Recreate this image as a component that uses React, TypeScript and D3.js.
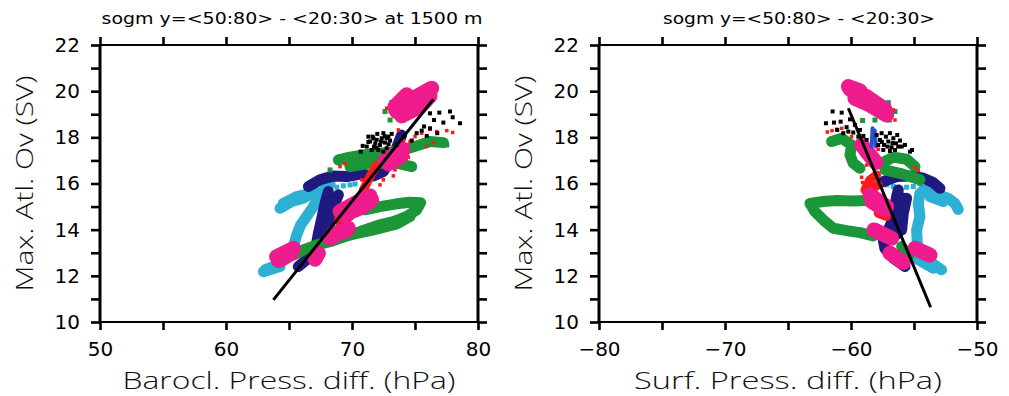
import React, { useEffect, useRef } from 'react';
import * as d3 from 'd3';

type Pt = [number, number];

// ---------- left panel: baroclinic pressure difference (at 1500 m) ----------
const leftCyan: Pt[][] = [
  [[63.10, 12.26], [64.02, 12.47], [64.82, 12.76], [65.35, 13.27], [65.61, 13.77], [65.93, 14.21], [66.40, 14.57], [66.93, 15.00], [67.41, 15.43], [67.86, 15.79], [68.26, 15.98]],
  [[62.97, 12.18], [64.29, 12.40]],
  [[64.29, 14.93], [65.21, 15.22], [66.14, 15.36], [67.07, 15.65]],
  [[64.55, 15.14], [65.61, 15.43], [66.54, 15.55]],
];
const leftCyanDots: Pt[] = [[68.79, 15.84], [69.31, 15.90], [69.84, 15.94], [70.24, 15.98]];
const leftNavy: Pt[][] = [
  [[65.74, 12.40], [66.54, 12.76], [67.15, 13.27], [67.33, 13.84], [67.60, 14.49], [67.86, 15.14], [68.12, 15.65]],
  [[68.12, 14.35], [68.52, 15.00], [68.92, 15.51]],
  [[67.75, 13.70], [68.05, 14.40], [68.35, 15.30]],
  [[66.54, 15.87], [67.46, 16.16], [68.52, 16.33], [69.58, 16.30], [70.64, 16.41], [71.70, 16.33], [72.49, 16.52], [72.97, 16.95], [73.42, 17.38], [73.94, 18.10]],
];
const leftSpikes: Pt[][] = [];
const leftGreen: Pt[][] = [
  [[68.92, 17.02], [69.84, 17.14], [70.90, 17.24], [71.96, 17.31], [73.02, 17.34], [74.08, 17.45], [75.13, 17.63], [76.19, 17.82], [77.25, 17.77]],
  [[69.84, 16.73], [71.43, 16.88], [73.55, 16.88], [74.74, 16.73]],
  [[71.03, 14.86], [72.22, 15.00], [73.55, 15.12], [74.61, 15.19], [75.45, 15.17], [75.13, 14.86], [74.34, 14.57], [73.28, 14.35], [72.22, 14.21], [71.17, 14.02], [70.24, 13.84], [69.45, 13.70], [68.26, 13.48], [67.20, 13.34], [66.14, 13.12], [65.35, 12.90]],
  [[69.84, 13.77], [71.70, 13.99], [73.55, 14.25], [74.61, 14.57]],
];
const leftGreenDots: Pt[] = [[73.15, 19.50], [72.62, 19.12], [73.02, 18.75], [68.26, 16.59], [74.08, 18.75], [74.74, 16.80], [77.52, 17.67]];
const leftRed: Pt[][] = [
  [[68.92, 14.42], [69.98, 14.78]],
  [[69.05, 14.31], [69.84, 14.57]],
  [[70.90, 15.72], [71.43, 16.30], [71.96, 16.80]],
];
const leftRedDots: Pt[] = [
  [69.05, 16.73], [69.45, 16.85], [73.28, 16.33], [73.41, 16.59], [74.08, 17.89], [74.61, 17.82], [75.00, 18.03], [75.53, 18.18],
  [76.19, 18.35], [76.72, 18.25], [77.52, 18.29], [77.99, 18.21], [76.46, 17.77], [74.47, 17.14], [75.93, 17.60], [72.75, 19.26],
  [73.02, 19.12], [73.68, 18.32], [71.70, 16.59], [72.22, 15.94], [72.49, 16.16], [70.77, 16.16],
];
const leftPink: Pt[][] = [
  [[73.55, 19.12], [74.74, 19.65], [76.33, 20.13]],
  [[73.94, 18.93], [75.40, 19.33], [76.19, 19.79]],
  [[73.41, 19.33], [74.34, 19.84]],
  [[64.02, 12.83], [65.35, 13.19]],
  [[64.16, 12.66], [65.21, 12.98]],
  [[67.07, 12.72], [67.33, 12.98]],
  [[68.26, 13.63], [69.71, 14.06]],
  [[68.52, 13.84], [69.58, 13.96]],
  [[69.05, 14.78], [70.24, 15.14], [71.43, 15.46]],
  [[69.31, 14.64], [70.77, 14.97], [71.56, 15.29]],
  [[72.62, 16.99], [74.08, 17.48]],
  [[72.89, 16.85], [73.94, 17.20]],
];
const leftBlackDots: Pt[] = [
  [71.43, 17.82], [71.64, 18.03], [71.75, 17.60], [71.96, 17.89], [72.01, 18.15], [72.22, 17.67], [72.36, 17.96], [72.49, 18.18],
  [72.62, 17.77], [72.75, 17.53], [72.89, 18.03], [73.02, 17.86], [73.15, 18.15], [72.09, 17.45], [71.56, 17.45], [71.17, 17.60],
  [70.85, 17.63], [70.69, 17.38], [71.30, 18.03], [72.49, 17.38], [71.85, 17.74], [72.75, 17.96], [72.30, 17.82], [71.70, 17.95],
  [72.60, 18.05], [71.95, 17.55], [72.90, 17.70], [71.30, 17.80],
  [76.19, 19.04], [76.93, 19.07], [77.78, 19.12], [77.99, 18.87], [78.57, 18.61], [77.25, 18.64], [76.51, 18.75], [75.72, 18.47],
  [75.13, 18.18], [76.19, 18.39], [76.77, 18.18], [74.08, 18.03], [74.74, 17.86], [75.93, 18.06], [75.53, 18.29], [73.55, 17.67],
];
const leftFit: Pt[] = [[63.76, 10.96], [76.46, 19.65]];

// ---------- right panel: surface pressure difference ----------
const rightCyan: Pt[][] = [
  [[-54.53, 15.58], [-54.66, 15.14], [-54.53, 14.57], [-54.79, 13.99], [-54.74, 13.41], [-54.53, 13.05], [-53.87, 12.69], [-53.20, 12.40], [-52.81, 12.26]],
  [[-55.06, 12.83], [-53.47, 12.33]],
  [[-54.26, 15.72], [-53.20, 15.55], [-52.28, 15.36], [-51.75, 15.14], [-51.49, 14.88]],
  [[-53.73, 15.43], [-52.67, 15.22]],
];
const rightCyanDots: Pt[] = [[-56.64, 15.87], [-56.11, 15.79], [-55.59, 15.84], [-55.06, 15.87], [-57.17, 15.94]];
const rightNavy: Pt[][] = [
  [[-55.72, 12.40], [-56.64, 12.76], [-57.31, 13.19], [-57.44, 13.56], [-57.04, 13.99], [-56.64, 14.49], [-56.51, 15.00], [-56.38, 15.43], [-56.25, 15.72]],
  [[-55.98, 13.99], [-55.85, 14.71], [-55.59, 15.36]],
  [[-56.35, 13.80], [-56.20, 14.60], [-56.00, 15.40]],
  [[-57.44, 16.08], [-56.38, 16.30], [-55.32, 16.33], [-54.26, 16.23], [-53.47, 16.04], [-52.94, 15.79]],
];
const rightSpikes: Pt[][] = [
  [[-58.29, 18.39], [-58.36, 17.60]],
  [[-58.12, 18.30], [-58.02, 17.60]],
];
const rightGreen: Pt[][] = [
  [[-58.76, 15.26], [-59.82, 15.24], [-61.14, 15.26], [-62.20, 15.22], [-63.26, 15.14], [-62.86, 14.78], [-62.20, 14.42], [-61.40, 14.06], [-60.35, 13.96], [-59.29, 13.87], [-58.23, 13.73]],
  [[-61.54, 17.82], [-60.74, 17.96], [-59.95, 17.67], [-60.08, 17.24], [-59.82, 16.88], [-59.29, 16.66]],
  [[-57.57, 16.88], [-56.64, 17.14], [-55.59, 17.05], [-54.92, 16.73]],
  [[-57.31, 16.59], [-56.11, 16.44], [-54.53, 16.16]],
  [[-55.98, 13.27], [-55.45, 12.83]],
];
const rightGreenDots: Pt[] = [[-57.04, 19.50], [-56.51, 19.12], [-56.96, 18.75], [-58.10, 18.75], [-59.08, 18.73], [-61.14, 17.82], [-59.55, 16.73], [-54.53, 16.01]];
const rightRed: Pt[][] = [
  [[-58.89, 15.72], [-58.50, 16.16], [-57.97, 16.37]],
  [[-58.63, 15.65], [-57.84, 15.94]],
  [[-57.84, 14.71], [-57.17, 14.57]],
];
const rightRedDots: Pt[] = [
  [-61.88, 18.23], [-61.51, 18.29], [-61.14, 18.35], [-60.74, 18.39], [-59.95, 18.03], [-59.50, 17.77], [-59.02, 17.67], [-58.50, 17.57],
  [-57.84, 17.48], [-54.92, 16.70], [-54.66, 16.56], [-59.16, 16.27], [-59.08, 16.04], [-56.51, 18.75], [-56.64, 19.19], [-58.76, 16.80],
];
const rightPink: Pt[][] = [
  [[-60.08, 20.08], [-58.76, 19.76], [-57.31, 19.22]],
  [[-59.69, 19.69], [-58.50, 19.40], [-57.17, 18.97]],
  [[-60.21, 20.20], [-59.29, 20.02]],
  [[-59.16, 17.67], [-58.18, 17.02]],
  [[-58.76, 17.38], [-58.02, 16.91]],
  [[-58.50, 15.51], [-57.17, 15.00]],
  [[-58.36, 15.22], [-57.31, 14.86]],
  [[-58.18, 13.99], [-56.78, 13.63]],
  [[-56.91, 12.98], [-55.85, 12.57]],
  [[-54.92, 13.19], [-53.73, 12.90]],
];
const rightBlackDots: Pt[] = [
  [-57.97, 18.10], [-57.70, 17.89], [-57.57, 18.18], [-57.38, 17.67], [-57.23, 18.03], [-57.04, 17.82], [-56.91, 18.18], [-56.78, 17.57],
  [-56.64, 17.96], [-56.43, 17.74], [-56.33, 18.10], [-56.11, 17.86], [-55.98, 17.60], [-57.44, 17.45], [-57.84, 17.67], [-55.72, 17.67],
  [-55.32, 17.38], [-55.16, 17.45], [-56.91, 17.41], [-56.51, 17.45], [-57.10, 17.60], [-56.70, 17.75], [-56.25, 17.60], [-57.55, 17.80],
  [-61.99, 18.61], [-61.46, 19.12], [-61.35, 18.64], [-60.74, 19.07], [-60.82, 18.68], [-60.08, 18.78], [-60.35, 18.44], [-59.69, 18.54],
  [-59.29, 18.32], [-59.02, 18.06], [-60.61, 18.18], [-59.82, 18.21], [-61.09, 18.32], [-59.42, 18.03], [-60.21, 18.25], [-58.76, 17.89],
];
const rightFit: Pt[] = [[-60.21, 19.26], [-53.68, 10.64]];

const yDomain: [number, number] = [10, 22];

const COLORS = { cyan: '#2cb0d3', navy: '#1f1a80', blue: '#2a52c8', green: '#1b9638', red: '#ff1a1a', pink: '#ee1c8c', black: '#000000' };
const TRACK_W = { cyan: 11, navy: 11, spike: 4, green: 11, red: 9, pink: 15 };

interface PanelCfg {
  x0: number;
  xDomain: [number, number];
  title: string;
  titleX: number;
  titleLen: number;
  xLabel: string;
  xLabelLen: number;
  cyan: Pt[][]; cyanDots: Pt[];
  navy: Pt[][]; spikes: Pt[][];
  green: Pt[][]; greenDots: Pt[];
  red: Pt[][]; redDots: Pt[];
  pink: Pt[][];
  blackDots: Pt[];
  fit: Pt[];
}

const panels: PanelCfg[] = [
  {
    x0: 100, xDomain: [50, 80], title: 'sogm y=<50:80> - <20:30> at 1500 m', titleX: 292, titleLen: 381,
    xLabel: 'Barocl. Press. diff. (hPa)', xLabelLen: 333,
    cyan: leftCyan, cyanDots: leftCyanDots, navy: leftNavy, spikes: leftSpikes, green: leftGreen, greenDots: leftGreenDots,
    red: leftRed, redDots: leftRedDots, pink: leftPink, blackDots: leftBlackDots, fit: leftFit,
  },
  {
    x0: 599, xDomain: [-80, -50], title: 'sogm y=<50:80> - <20:30>', titleX: 799, titleLen: 272,
    xLabel: 'Surf. Press. diff. (hPa)', xLabelLen: 308,
    cyan: rightCyan, cyanDots: rightCyanDots, navy: rightNavy, spikes: rightSpikes, green: rightGreen, greenDots: rightGreenDots,
    red: rightRed, redDots: rightRedDots, pink: rightPink, blackDots: rightBlackDots, fit: rightFit,
  },
];

const W = 378;
const TOP = 45;
const BOTTOM = 322;

function drawPanel(svg: d3.Selection<SVGSVGElement, unknown, null, undefined>, cfg: PanelCfg) {
  const x = d3.scaleLinear().domain(cfg.xDomain).range([cfg.x0, cfg.x0 + W]);
  const y = d3.scaleLinear().domain(yDomain).range([BOTTOM, TOP]);
  const g = svg.append('g');

  const line = d3.line<Pt>().x((d) => x(d[0])).y((d) => y(d[1]));

  const tracks = (data: Pt[][], color: string, w: number) => {
    g.append('g')
      .selectAll('path')
      .data(data)
      .enter()
      .append('path')
      .attr('d', (d) => line(d))
      .attr('fill', 'none')
      .attr('stroke', color)
      .attr('stroke-width', w)
      .attr('stroke-linecap', 'round')
      .attr('stroke-linejoin', 'round');
  };
  const dots = (data: Pt[], color: string, s: number) => {
    g.append('g')
      .selectAll('rect')
      .data(data)
      .enter()
      .append('rect')
      .attr('x', (d) => x(d[0]) - s / 2)
      .attr('y', (d) => y(d[1]) - s / 2)
      .attr('width', s)
      .attr('height', s)
      .attr('fill', color);
  };

  tracks(cfg.cyan, COLORS.cyan, TRACK_W.cyan);
  dots(cfg.cyanDots, COLORS.cyan, 5);
  tracks(cfg.navy, COLORS.navy, TRACK_W.navy);
  tracks(cfg.green, COLORS.green, TRACK_W.green);
  dots(cfg.greenDots, COLORS.green, 5);
  tracks(cfg.red, COLORS.red, TRACK_W.red);
  dots(cfg.redDots, COLORS.red, 3.5);
  tracks(cfg.pink, COLORS.pink, TRACK_W.pink);
  tracks(cfg.spikes, COLORS.blue, TRACK_W.spike);
  dots(cfg.blackDots, COLORS.black, 4);

  // regression line
  g.append('path')
    .attr('d', line(cfg.fit))
    .attr('fill', 'none')
    .attr('stroke', '#000')
    .attr('stroke-width', 3);

  // axes
  const xTicks = d3.range(cfg.xDomain[0], cfg.xDomain[1] + 0.1, 5);
  const yTicks = d3.range(yDomain[0], yDomain[1] + 0.1, 1);
  const fmt = d3.format('d');
  const tickFont = '"DejaVu Sans", sans-serif';

  const styleAxis = (sel: d3.Selection<SVGGElement, unknown, null, undefined>) => {
    sel.select('.domain').remove();
    sel.selectAll('line').attr('stroke', '#000').attr('stroke-width', 2.6);
    sel.selectAll('text').attr('fill', '#000').attr('font-size', 20).attr('font-family', tickFont);
  };

  g.append('g')
    .attr('transform', `translate(0,${BOTTOM})`)
    .call(d3.axisBottom(x).tickValues(xTicks).tickSize(8).tickSizeOuter(0).tickPadding(12)
      .tickFormat((d) => (+d % 10 === 0 ? fmt(+d) : '')))
    .call(styleAxis);
  g.append('g')
    .attr('transform', `translate(0,${TOP})`)
    .call(d3.axisTop(x).tickValues(xTicks).tickSize(8).tickSizeOuter(0).tickFormat(() => ''))
    .call(styleAxis);
  g.append('g')
    .attr('transform', `translate(${cfg.x0},0)`)
    .call(d3.axisLeft(y).tickValues(yTicks).tickSize(9).tickSizeOuter(0).tickPadding(11)
      .tickFormat((d) => (+d % 2 === 0 ? fmt(+d) : '')))
    .call(styleAxis);
  g.append('g')
    .attr('transform', `translate(${cfg.x0 + W},0)`)
    .call(d3.axisRight(y).tickValues(yTicks).tickSize(9).tickSizeOuter(0).tickFormat(() => ''))
    .call(styleAxis);

  // frame
  const frame = g.append('g').attr('stroke', '#000');
  frame.append('line').attr('x1', cfg.x0).attr('x2', cfg.x0 + W).attr('y1', TOP).attr('y2', TOP).attr('stroke-width', 2);
  frame.append('line').attr('x1', cfg.x0).attr('x2', cfg.x0 + W).attr('y1', BOTTOM).attr('y2', BOTTOM).attr('stroke-width', 2);
  frame.append('line').attr('x1', cfg.x0).attr('x2', cfg.x0).attr('y1', TOP).attr('y2', BOTTOM).attr('stroke-width', 3);
  frame.append('line').attr('x1', cfg.x0 + W).attr('x2', cfg.x0 + W).attr('y1', TOP).attr('y2', BOTTOM).attr('stroke-width', 3);

  // titles
  g.append('text')
    .attr('x', cfg.titleX)
    .attr('y', 24)
    .attr('text-anchor', 'middle')
    .attr('font-family', '"DejaVu Sans", sans-serif')
    .attr('font-size', 15)
    .attr('textLength', cfg.titleLen)
    .attr('lengthAdjust', 'spacingAndGlyphs')
    .text(cfg.title);
  g.append('text')
    .attr('x', cfg.x0 + W / 2)
    .attr('y', 389)
    .attr('text-anchor', 'middle')
    .attr('font-family', '"Open Sans", sans-serif')
    .attr('font-weight', 300)
    .attr('font-size', 23)
    .attr('fill', '#111')
    .attr('textLength', cfg.xLabelLen)
    .attr('lengthAdjust', 'spacingAndGlyphs')
    .text(cfg.xLabel);
  g.append('text')
    .attr('transform', `translate(${cfg.x0 - 67},${(TOP + BOTTOM) / 2}) rotate(-90)`)
    .attr('text-anchor', 'middle')
    .attr('font-family', '"Open Sans", sans-serif')
    .attr('font-weight', 300)
    .attr('font-size', 23)
    .attr('fill', '#111')
    .attr('textLength', 216)
    .attr('lengthAdjust', 'spacingAndGlyphs')
    .text('Max. Atl. Ov (SV)');
}

const App: React.FC = () => {
  const svgRef = useRef<SVGSVGElement | null>(null);

  useEffect(() => {
    if (!svgRef.current) return;
    const svg = d3.select(svgRef.current);
    svg.selectAll('*').remove();
    panels.forEach((p) => drawPanel(svg, p));
  }, []);

  return (
    <svg
      ref={svgRef}
      width={1009}
      height={396}
      style={{ position: 'absolute', left: 0, top: 0, background: '#fff' }}
    />
  );
};

export default App;
